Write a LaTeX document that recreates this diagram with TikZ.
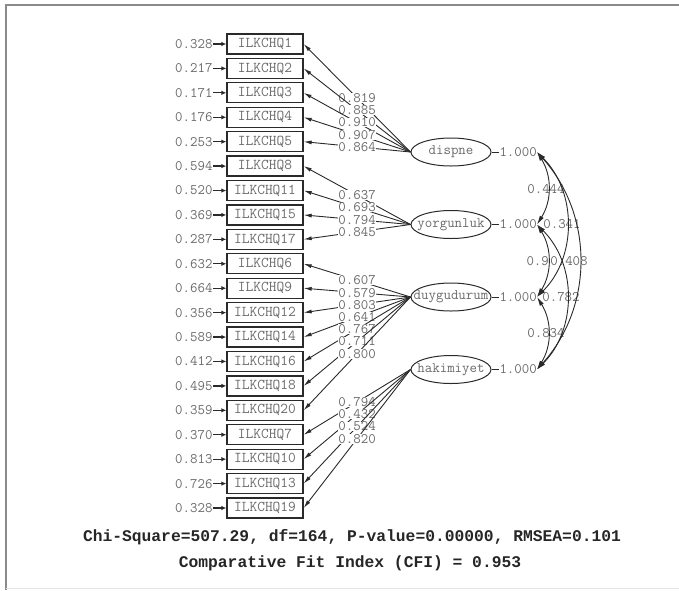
\documentclass[tikz,border=0pt]{standalone}
\usepackage{fontspec}
\newfontfamily\fitfont{Liberation Mono}
\usepackage{tikz}
\usetikzlibrary{arrows.meta,shapes.geometric}

\definecolor{numgray}{HTML}{6A6A6A}
\definecolor{linedark}{HTML}{2A2A2A}
\definecolor{framegray}{HTML}{8A8A8A}

\tikzset{
  coef/.style={font=\ttfamily\fontsize{14.5}{15}\selectfont, text=numgray, inner sep=0.3pt},
  indicator/.style={draw=linedark, line width=1.3pt, minimum width=76pt, minimum height=20pt,
    inner sep=0pt, font=\ttfamily\fontsize{15}{16}\selectfont, text=numgray},
  latent/.style={ellipse, draw=linedark, line width=1pt, minimum width=80pt, minimum height=28pt, inner sep=0pt},
  errarrow/.style={draw=linedark, line width=1.3pt, -{Latex[length=5pt,width=4.5pt]}},
  loading/.style={draw=linedark, line width=0.9pt, -{Latex[length=8pt,width=4pt]}},
  varline/.style={draw=linedark, line width=0.8pt},
  corr/.style={draw=linedark, line width=0.9pt, {Latex[length=9pt,width=4.5pt]}-{Latex[length=9pt,width=4.5pt]}},
  fittext/.style={font=\fitfont\bfseries\fontsize{16.3}{18}\selectfont, text=black!85}
}

\begin{document}
\begin{tikzpicture}[x=1pt,y=-1pt]
  \useasboundingbox (0,0) rectangle (679,590);
  % frame
  \draw[framegray, line width=1.2pt] (679,5) -- (6,5) -- (6,590);
  \draw[gray!20, line width=1pt] (6,588) -- (679,588);

  % observed items and their error variances
  \foreach \nm/\err [count=\i from 0] in {ILKCHQ1/0.328, ILKCHQ2/0.217, ILKCHQ3/0.171, ILKCHQ4/0.176,
      ILKCHQ5/0.253, ILKCHQ8/0.594, ILKCHQ11/0.520, ILKCHQ15/0.369, ILKCHQ17/0.287,
      ILKCHQ6/0.632, ILKCHQ9/0.664, ILKCHQ12/0.356, ILKCHQ14/0.589, ILKCHQ16/0.412,
      ILKCHQ18/0.495, ILKCHQ20/0.359, ILKCHQ7/0.370, ILKCHQ10/0.813, ILKCHQ13/0.726,
      ILKCHQ19/0.328}{
    \node[indicator] (\nm) at (265,{44+24.42*\i}) {\nm};
    \node[coef, anchor=east] (e\nm) at (213,{44+24.42*\i}) {\err};
    \draw[errarrow] (e\nm) -- (\nm);
  }

  % latent factors
  \foreach \lv/\y in {dispne/152, yorgunluk/224.5, duygudurum/297, hakimiyet/369.5}{
    \node[latent] (\lv) at (451,\y) {};
    \node[coef] at (\lv) {\lv};
    \node[coef, anchor=west] (v\lv) at (499,\y) {1.000};
    \draw[varline] (\lv.east) -- (v\lv.west);
    \coordinate (k\lv) at (537,\y);
  }

  % factor loadings
  \foreach \lv/\nm/\ld in {dispne/ILKCHQ1/0.819, dispne/ILKCHQ2/0.885, dispne/ILKCHQ3/0.910,
      dispne/ILKCHQ4/0.907, dispne/ILKCHQ5/0.864,
      yorgunluk/ILKCHQ8/0.637, yorgunluk/ILKCHQ11/0.693, yorgunluk/ILKCHQ15/0.794,
      yorgunluk/ILKCHQ17/0.845,
      duygudurum/ILKCHQ6/0.607, duygudurum/ILKCHQ9/0.579, duygudurum/ILKCHQ12/0.803,
      duygudurum/ILKCHQ14/0.641, duygudurum/ILKCHQ16/0.767, duygudurum/ILKCHQ18/0.711,
      duygudurum/ILKCHQ20/0.800,
      hakimiyet/ILKCHQ7/0.794, hakimiyet/ILKCHQ10/0.432, hakimiyet/ILKCHQ13/0.524,
      hakimiyet/ILKCHQ19/0.820}{
    \draw[loading] (\lv.west) -- node[coef, fill=white] {\ld} (\nm.east);
  }

  % factor correlations
  \node[coef] (r12) at (546,189) {0.444};
  \node[coef] (r13) at (562,224.5) {0.341};
  \node[coef] (r14) at (569,261) {0.408};
  \node[coef, anchor=west] (r23) at (526,261) {0.9};
  \node[coef] (r24) at (561,297) {0.782};
  \node[coef] (r34) at (546,333) {0.834};
  \draw[corr] (kdispne) to[bend left=32] (kyorgunluk);
  \draw[corr] (kdispne) to[bend left=45] (kduygudurum);
  \draw[corr] (kdispne) to[bend left=42] (khakimiyet);
  \draw[corr] (kyorgunluk) to[bend left=32] (kduygudurum);
  \draw[corr] (kyorgunluk) to[bend left=45] (khakimiyet);
  \draw[corr] (kduygudurum) to[bend left=32] (khakimiyet);

  % fit statistics
  \node[fittext] (chi) at (352,537) {Chi-Square=507.29, df=164, P-value=0.00000, RMSEA=0.101};
  \node[fittext] (cfi) at (350,563) {Comparative Fit Index (CFI) = 0.953};
\end{tikzpicture}
\end{document}
